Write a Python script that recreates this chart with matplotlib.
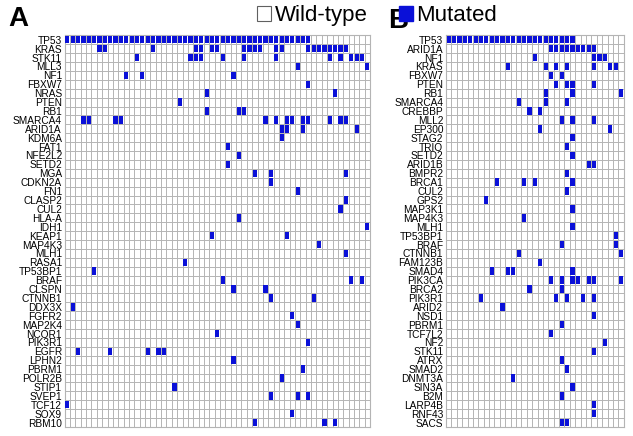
import matplotlib
matplotlib.use("Agg")
import matplotlib.pyplot as plt
from matplotlib.patches import Patch
import numpy as np

plt.rcParams['font.family'] = ['Liberation Sans', 'DejaVu Sans']

BLUE = '#0a10d8'
GRID = '#b4b4b4'

# ---------------- Panel A ----------------
genes_a = ["TP53", "KRAS", "STK11", "MLL3", "NF1", "FBXW7", "NRAS", "PTEN", "RB1",
           "SMARCA4", "ARID1A", "KDM6A", "FAT1", "NFE2L2", "SETD2", "MGA", "CDKN2A",
           "FN1", "CLASP2", "CUL2", "HLA-A", "IDH1", "KEAP1", "MAP4K3", "MLH1", "RASA1",
           "TP53BP1", "BRAF", "CLSPN", "CTNNB1", "DDX3X", "FGFR2", "MAP2K4", "NCOR1",
           "PIK3R1", "EGFR", "LPHN2", "PBRM1", "POLR2B", "STIP1", "SVEP1", "TCF12",
           "SOX9", "RBM10"]
n_samples_a = 57
mut_a = [
    [0, 1, 2, 3, 4, 5, 6, 7, 8, 9, 10, 11, 12, 13, 14, 15, 16, 17, 18, 19, 20, 21, 22,
     23, 24, 25, 26, 27, 28, 29, 30, 31, 32, 33, 34, 35, 36, 37, 38, 39, 40, 41, 42, 43,
     44, 45],                                                    # TP53
    [6, 7, 16, 24, 25, 27, 28, 33, 34, 35, 36, 39, 40, 45, 46, 47, 48, 49, 50, 51, 52],  # KRAS
    [13, 23, 24, 25, 29, 33, 39, 49, 51, 53, 54, 55],            # STK11
    [43, 56],                                                    # MLL3
    [11, 14, 31],                                                # NF1
    [45],                                                        # FBXW7
    [26, 50],                                                    # NRAS
    [21],                                                        # PTEN
    [26, 32, 33],                                                # RB1
    [3, 4, 9, 10, 37, 39, 41, 42, 44, 45, 49, 51, 52],           # SMARCA4
    [40, 41, 44, 54],                                            # ARID1A
    [40],                                                        # KDM6A
    [30],                                                        # FAT1
    [32],                                                        # NFE2L2
    [30],                                                        # SETD2
    [35, 38, 52],                                                # MGA
    [38],                                                        # CDKN2A
    [43],                                                        # FN1
    [52],                                                        # CLASP2
    [51],                                                        # CUL2
    [32],                                                        # HLA-A
    [56],                                                        # IDH1
    [27, 41],                                                    # KEAP1
    [47],                                                        # MAP4K3
    [52],                                                        # MLH1
    [22],                                                        # RASA1
    [5],                                                         # TP53BP1
    [29, 53, 55],                                                # BRAF
    [31, 37],                                                    # CLSPN
    [38, 46],                                                    # CTNNB1
    [1],                                                         # DDX3X
    [42],                                                        # FGFR2
    [43],                                                        # MAP2K4
    [28],                                                        # NCOR1
    [45],                                                        # PIK3R1
    [2, 8, 15, 17, 18],                                          # EGFR
    [31],                                                        # LPHN2
    [44],                                                        # PBRM1
    [40],                                                        # POLR2B
    [20],                                                        # STIP1
    [38, 43, 45],                                                # SVEP1
    [0],                                                         # TCF12
    [42],                                                        # SOX9
    [35, 48, 50],                                                # RBM10
]

# ---------------- Panel B ----------------
genes_b = ["TP53", "ARID1A", "NF1", "KRAS", "FBXW7", "PTEN", "RB1", "SMARCA4", "CREBBP",
           "MLL2", "EP300", "STAG2", "TRIO", "SETD2", "ARID1B", "BMPR2", "BRCA1", "CUL2",
           "GPS2", "MAP3K1", "MAP4K3", "MLH1", "TP53BP1", "BRAF", "CTNNB1", "FAM123B",
           "SMAD4", "PIK3CA", "BRCA2", "PIK3R1", "ARID2", "NSD1", "PBRM1", "TCF7L2",
           "NF2", "STK11", "ATRX", "SMAD2", "DNMT3A", "SIN3A", "B2M", "LARP4B", "RNF43",
           "SACS"]
n_samples_b = 33
mut_b = [
    [0, 1, 2, 3, 4, 5, 6, 7, 8, 9, 10, 11, 12, 13, 14, 15, 16, 17, 18, 19, 20, 21, 22, 23],  # TP53
    [19, 20, 21, 22, 23, 24, 25, 26, 27],                        # ARID1A
    [16, 27, 28, 29],                                            # NF1
    [11, 18, 20, 22, 27, 30, 31],                                # KRAS
    [19, 21],                                                    # FBXW7
    [20, 22, 23, 27],                                            # PTEN
    [18, 23, 32],                                                # RB1
    [13, 18, 22],                                                # SMARCA4
    [15, 17],                                                    # CREBBP
    [21, 23, 27],                                                # MLL2
    [17, 30],                                                    # EP300
    [23],                                                        # STAG2
    [22],                                                        # TRIO
    [23],                                                        # SETD2
    [26, 27],                                                    # ARID1B
    [22],                                                        # BMPR2
    [9, 14, 16, 23],                                             # BRCA1
    [22],                                                        # CUL2
    [7],                                                         # GPS2
    [23],                                                        # MAP3K1
    [14],                                                        # MAP4K3
    [23],                                                        # MLH1
    [31],                                                        # TP53BP1
    [21, 31],                                                    # BRAF
    [13, 32],                                                    # CTNNB1
    [17],                                                        # FAM123B
    [8, 11, 12, 23],                                             # SMAD4
    [19, 21, 23, 24, 26, 27, 32],                                # PIK3CA
    [15, 21],                                                    # BRCA2
    [6, 20, 22, 25, 27],                                         # PIK3R1
    [10],                                                        # ARID2
    [27],                                                        # NSD1
    [21],                                                        # PBRM1
    [19],                                                        # TCF7L2
    [29],                                                        # NF2
    [27],                                                        # STK11
    [21],                                                        # ATRX
    [22],                                                        # SMAD2
    [12],                                                        # DNMT3A
    [23],                                                        # SIN3A
    [21],                                                        # B2M
    [27],                                                        # LARP4B
    [27],                                                        # RNF43
    [21, 22],                                                    # SACS
]

legend_labels = ["Wild-type", "Mutated"]
panel_labels = ["A", "B"]

W, H = 633, 436
fig = plt.figure(figsize=(W / 100, H / 100), dpi=100)


def draw_panel(rect, genes, muts, ncol):
    ax = fig.add_axes(rect)
    nrow = len(genes)
    ax.set_xlim(0, ncol)
    ax.set_ylim(nrow, 0)
    ax.set_xticks(np.arange(ncol + 1), minor=True)
    ax.set_yticks(np.arange(nrow + 1), minor=True)
    ax.grid(which='minor', color=GRID, linewidth=0.7)
    ax.set_axisbelow(True)
    ax.tick_params(which='both', length=0)
    ax.set_xticks([])
    ax.set_yticks(np.arange(nrow) + 0.5)
    ax.set_yticklabels(genes, fontsize=7.3)
    ax.tick_params(axis='y', pad=2)
    for sp in ax.spines.values():
        sp.set_color(GRID)
        sp.set_linewidth(0.8)
    xs, ys = [], []
    for r, cols in enumerate(muts):
        for c in cols:
            xs.append(c + 0.5)
            ys.append(r + 0.08)
    ax.bar(xs, 0.84, bottom=ys, width=0.78, color=BLUE, linewidth=0, zorder=3)
    return ax


top = 35.3
bottom = 427.0
draw_panel([64.7 / W, 1 - bottom / H, (370.0 - 64.7) / W, (bottom - top) / H],
           genes_a, mut_a, n_samples_a)
draw_panel([446.0 / W, 1 - bottom / H, (623.7 - 446.0) / W, (bottom - top) / H],
           genes_b, mut_b, n_samples_b)

fig.text(8 / W, 1 - 6 / H, panel_labels[0], fontsize=20, fontweight='bold', va='top', ha='left')
fig.text(388 / W, 1 - 8 / H, panel_labels[1], fontsize=20, fontweight='bold', va='top', ha='left')

handles = [Patch(facecolor='white', edgecolor='#606060', linewidth=0.8),
           Patch(facecolor=BLUE, edgecolor=BLUE)]
fig.legend(handles, legend_labels, ncol=2, loc='upper left',
           bbox_to_anchor=(257 / W, 1 - 5 / H), frameon=False, fontsize=16,
           handlelength=0.64, handleheight=0.64, handletextpad=0.15, columnspacing=1.4,
           borderaxespad=0.0, borderpad=0.0)

fig.savefig("out.png", dpi=100)
